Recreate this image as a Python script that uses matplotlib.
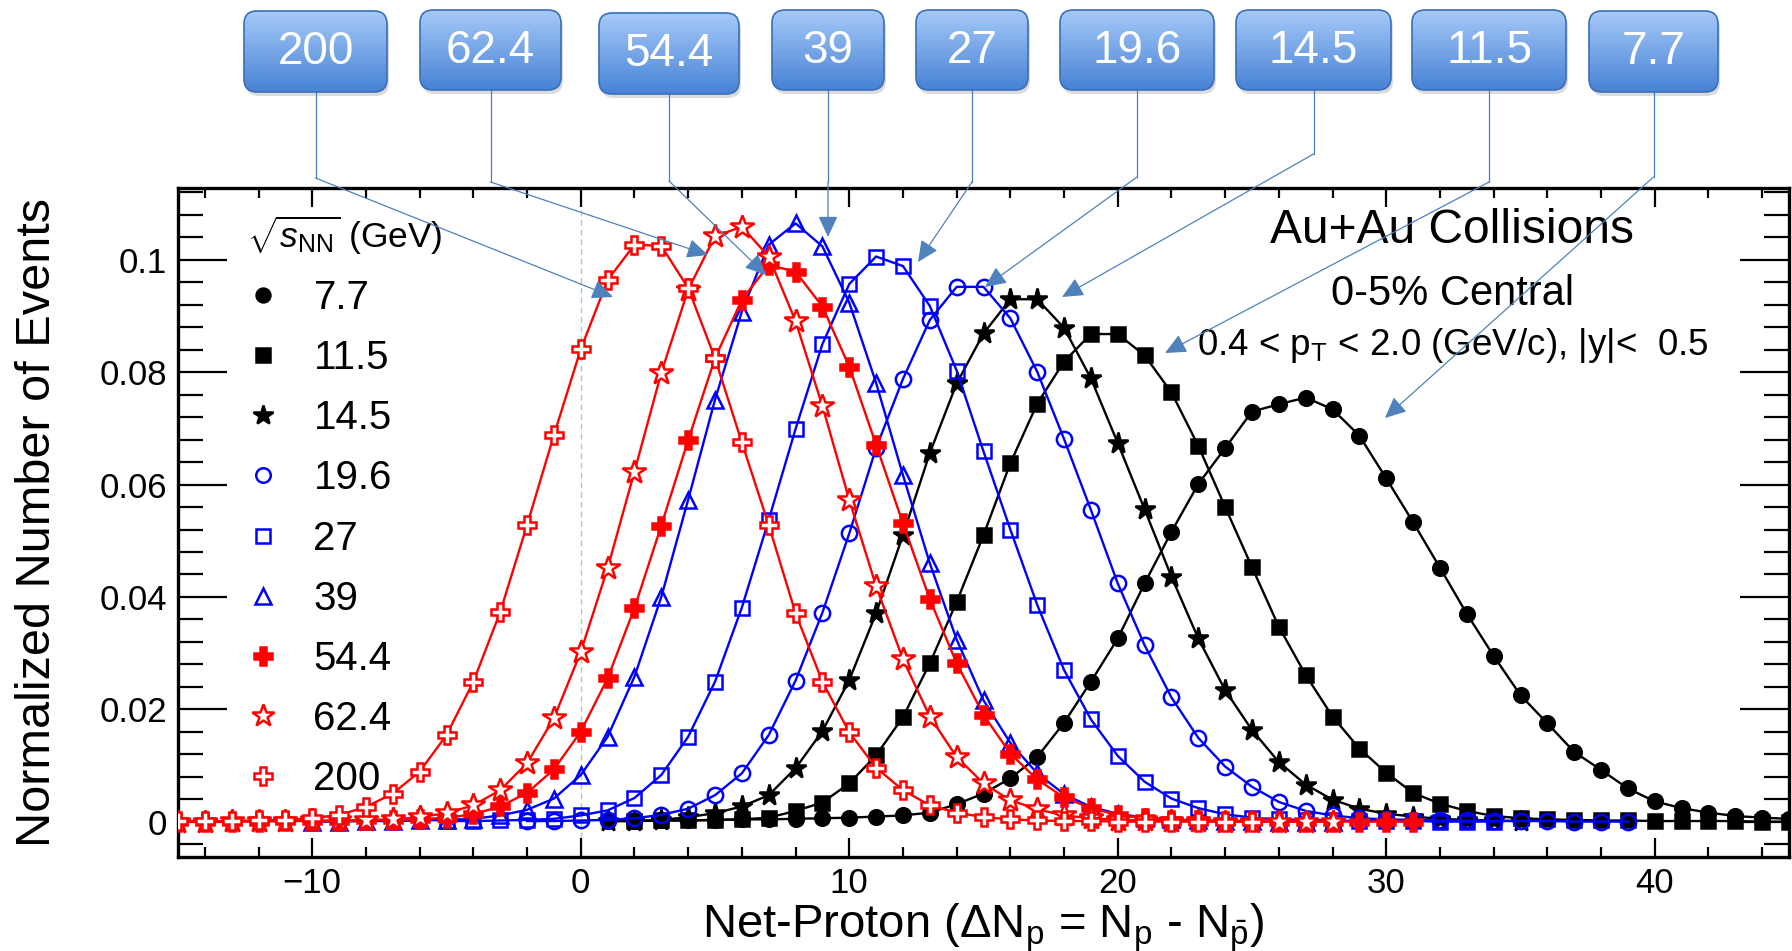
import numpy as np
import matplotlib
matplotlib.use('Agg')
import matplotlib.pyplot as plt
from matplotlib.lines import Line2D
from matplotlib.patches import FancyBboxPatch, FancyArrowPatch
from matplotlib.colors import LinearSegmentedColormap
from matplotlib.ticker import MultipleLocator, FuncFormatter

plt.rcParams['font.family'] = ['Liberation Sans', 'DejaVu Sans']
plt.rcParams['mathtext.fontset'] = 'custom'
plt.rcParams['mathtext.rm'] = 'Liberation Sans'
plt.rcParams['mathtext.it'] = 'Liberation Sans:italic'
plt.rcParams['mathtext.bf'] = 'Liberation Sans:bold'

# ---- data: normalized net-proton distributions, 0-5% central Au+Au ----
energies = ['7.7', '11.5', '14.5', '19.6', '27', '39', '54.4', '62.4', '200']

x_7p7 = list(range(1, 46))
y_7p7 = [0.0001, 0.0001, 0.0002, 0.0002, 0.0003, 0.0004, 0.0004, 0.0005, 0.0006, 0.0007,
         0.0009, 0.0011, 0.0016, 0.0031, 0.0050, 0.0077, 0.0115, 0.0176, 0.0249, 0.0326,
         0.0424, 0.0516, 0.0601, 0.0665, 0.0730, 0.0743, 0.0755, 0.0734, 0.0687, 0.0611,
         0.0533, 0.0452, 0.0370, 0.0295, 0.0225, 0.0175, 0.0124, 0.0092, 0.0059, 0.0036,
         0.0024, 0.0016, 0.0010, 0.0007, 0.0005]

x_11p5 = list(range(2, 46))
y_11p5 = [0.0001, 0.0002, 0.0002, 0.0003, 0.0004, 0.0007, 0.0019, 0.0034, 0.0068, 0.0118,
          0.0186, 0.0282, 0.0391, 0.0510, 0.0638, 0.0744, 0.0819, 0.0868, 0.0868, 0.0830,
          0.0764, 0.0669, 0.0560, 0.0453, 0.0347, 0.0261, 0.0187, 0.0130, 0.0087, 0.0051,
          0.0032, 0.0019, 0.0010, 0.0006, 0.0004, 0.0003, 0.0002, 0.0002, 0.0001, 0.0001,
          0.0001, 0.0001, 0.0000, 0.0000]

x_14p5 = list(range(1, 36))
y_14p5 = [0.0001, 0.0001, 0.0003, 0.0008, 0.0015, 0.0027, 0.0047, 0.0095, 0.0161, 0.0252,
          0.0371, 0.0510, 0.0656, 0.0780, 0.0869, 0.0930, 0.0930, 0.0879, 0.0789, 0.0674,
          0.0556, 0.0436, 0.0326, 0.0234, 0.0163, 0.0106, 0.0066, 0.0039, 0.0023, 0.0014,
          0.0009, 0.0005, 0.0003, 0.0002, 0.0001]

x_19p6 = list(range(-2, 40))
y_19p6 = [0.0001, 0.0001, 0.0002, 0.0003, 0.0006, 0.0012, 0.0023, 0.0047, 0.0086, 0.0154,
          0.0251, 0.0372, 0.0513, 0.0665, 0.0788, 0.0893, 0.0952, 0.0952, 0.0896, 0.0801,
          0.0681, 0.0555, 0.0424, 0.0314, 0.0221, 0.0149, 0.0098, 0.0062, 0.0035, 0.0019,
          0.0011, 0.0006, 0.0004, 0.0003, 0.0002, 0.0002, 0.0001, 0.0001, 0.0001, 0.0000,
          0.0000, 0.0000]

x_27 = list(range(-5, 35))
y_27 = [0.0001, 0.0001, 0.0002, 0.0003, 0.0005, 0.0011, 0.0020, 0.0042, 0.0083, 0.0151,
        0.0249, 0.0381, 0.0537, 0.0699, 0.0850, 0.0957, 0.1006, 0.0989, 0.0918, 0.0803,
        0.0659, 0.0520, 0.0386, 0.0270, 0.0182, 0.0117, 0.0071, 0.0041, 0.0024, 0.0013,
        0.0007, 0.0004, 0.0003, 0.0002, 0.0001, 0.0001, 0.0001, 0.0000, 0.0000, 0.0000]

x_39 = list(range(-10, 29))
y_39 = [0.0000, 0.0000, 0.0001, 0.0001, 0.0002, 0.0003, 0.0005, 0.0011, 0.0021, 0.0041,
        0.0083, 0.0151, 0.0258, 0.0400, 0.0573, 0.0751, 0.0908, 0.1027, 0.1065, 0.1024,
        0.0924, 0.0781, 0.0617, 0.0460, 0.0324, 0.0216, 0.0140, 0.0086, 0.0049, 0.0026,
        0.0014, 0.0007, 0.0004, 0.0002, 0.0001, 0.0001, 0.0000, 0.0000, 0.0000]

x_54p4 = list(range(-15, 32))
y_54p4 = [0.0000, 0.0000, 0.0000, 0.0000, 0.0001, 0.0001, 0.0001, 0.0002, 0.0003, 0.0004,
          0.0007, 0.0013, 0.0027, 0.0051, 0.0093, 0.0160, 0.0255, 0.0380, 0.0527, 0.0679,
          0.0825, 0.0929, 0.0991, 0.0979, 0.0917, 0.0810, 0.0671, 0.0531, 0.0396, 0.0282,
          0.0190, 0.0121, 0.0075, 0.0043, 0.0024, 0.0012, 0.0006, 0.0003, 0.0002, 0.0001,
          0.0001, 0.0000, 0.0000, 0.0000, 0.0000, 0.0000, 0.0000]

x_62p4 = list(range(-15, 29))
y_62p4 = [0.0000, 0.0000, 0.0001, 0.0001, 0.0001, 0.0002, 0.0002, 0.0003, 0.0004, 0.0008,
          0.0015, 0.0029, 0.0056, 0.0104, 0.0184, 0.0302, 0.0451, 0.0623, 0.0799, 0.0947,
          0.1042, 0.1059, 0.1006, 0.0891, 0.0740, 0.0573, 0.0419, 0.0289, 0.0187, 0.0115,
          0.0068, 0.0038, 0.0022, 0.0011, 0.0006, 0.0003, 0.0002, 0.0001, 0.0001, 0.0000,
          0.0000, 0.0000, 0.0000, 0.0000]

x_200 = list(range(-15, 26))
y_200 = [0.0001, 0.0001, 0.0001, 0.0002, 0.0003, 0.0006, 0.0012, 0.0026, 0.0050, 0.0089,
         0.0154, 0.0249, 0.0373, 0.0528, 0.0688, 0.0841, 0.0964, 0.1027, 0.1025, 0.0950,
         0.0825, 0.0675, 0.0528, 0.0371, 0.0249, 0.0159, 0.0096, 0.0056, 0.0029, 0.0016,
         0.0008, 0.0004, 0.0002, 0.0001, 0.0001, 0.0000, 0.0000, 0.0000, 0.0000, 0.0000,
         0.0000]

xs = [x_7p7, x_11p5, x_14p5, x_19p6, x_27, x_39, x_54p4, x_62p4, x_200]
ys = [y_7p7, y_11p5, y_14p5, y_19p6, y_27, y_39, y_54p4, y_62p4, y_200]

# marker styles (ROOT-like)
styles = [
    dict(color='black', marker='o', mfc='black', ms=10.5),
    dict(color='black', marker='s', mfc='black', ms=10),
    dict(color='black', marker='*', mfc='black', ms=15.5),
    dict(color='#0000ff', marker='o', mfc='none', ms=11),
    dict(color='#0000ff', marker='s', mfc='none', ms=10.5),
    dict(color='#0000ff', marker='^', mfc='none', ms=12),
    dict(color='#ff0000', marker='P', mfc='#ff0000', ms=13),
    dict(color='#ff0000', marker='*', mfc='white', ms=17.5),
    dict(color='#ff0000', marker='P', mfc='white', ms=13),
]

fig = plt.figure(figsize=(17.92, 9.51), dpi=100)
W, H = 1792.0, 951.0
ax = fig.add_axes([178 / W, 1 - 857 / H, (1789 - 178) / W, (857 - 188) / H])

ax.axvline(0, color='#9fd89f', ls=(0, (4, 3)), lw=1.0, zorder=1)

for i in range(len(energies)):
    st = styles[i]
    ax.plot(xs[i], ys[i], color=st['color'], lw=1.7, marker=st['marker'],
            ms=st['ms'], mfc=st['mfc'], mec=st['color'], mew=1.8, zorder=3 + i)

ax.set_xlim(-15, 45)
ax.set_ylim(-0.0063, 0.1128)

ax.xaxis.set_major_locator(MultipleLocator(10))
ax.xaxis.set_minor_locator(MultipleLocator(2))
ax.yaxis.set_major_locator(MultipleLocator(0.02))
ax.yaxis.set_minor_locator(MultipleLocator(0.004))
ax.yaxis.set_major_formatter(FuncFormatter(lambda v, p: '0' if abs(v) < 1e-9 else '%g' % round(v, 3)))

ax.tick_params(axis='both', which='both', direction='in', top=True, right=True,
               labelsize=25, width=1.6)
ax.tick_params(axis='y', which='major', length=35, pad=8)
ax.tick_params(axis='y', which='minor', length=18)
ax.tick_params(axis='x', which='major', length=14, pad=7)
ax.tick_params(axis='x', which='minor', length=7)
for sp in ax.spines.values():
    sp.set_linewidth(2.4)

fig.text(38 / W, 0.5 * (2 - (188 + 857) / H), 'Normalized Number of Events', rotation=90,
         ha='center', va='center', fontsize=35)
fig.text(983.5 / W, 1 - 937 / H,
         r'Net-Proton ($\Delta$N$_{\mathrm{p}}$ = N$_{\mathrm{p}}$ - N$_{\bar{\mathrm{p}}}$)',
         ha='center', va='baseline', fontsize=34)

ax.text(0.791, 0.9178, 'Au+Au Collisions', transform=ax.transAxes, ha='center',
        va='baseline', fontsize=34.5)
ax.text(0.791, 0.8251, '0-5% Central', transform=ax.transAxes, ha='center',
        va='baseline', fontsize=30)
ax.text(0.791, 0.7504, r'0.4 < p$_{\mathrm{T}}$ < 2.0 (GeV/c), |y|<  0.5',
        transform=ax.transAxes, ha='center', va='baseline', fontsize=26.5)

handles = [Line2D([], [], ls='none', marker=st['marker'], ms=st['ms'] * 0.95,
                  mfc=st['mfc'], mec=st['color'], mew=1.8) for st in styles]
leg = ax.legend(handles, energies, loc='upper left', bbox_to_anchor=(0.0428, 0.962),
                frameon=False, fontsize=29, title=r'$\sqrt{s_{\mathrm{NN}}}$ (GeV)',
                title_fontsize=25.5, alignment='left', labelspacing=0.55,
                handlelength=0.8, handletextpad=0.85, borderpad=0, borderaxespad=0)

# ---- energy call-out boxes with arrows (overlay in pixel coords) ----
ov = fig.add_axes([0, 0, 1, 1], zorder=10)
ov.set_xlim(0, W)
ov.set_ylim(H, 0)
ov.axis('off')
ov.patch.set_alpha(0)

box_labels = ['200', '62.4', '54.4', '39', '27', '19.6', '14.5', '11.5', '7.7']
box_x0 = [244, 420, 599, 772, 916, 1060, 1236, 1412, 1589]
box_x1 = [387, 561, 739, 884, 1028, 1214, 1391, 1566, 1718]
box_y0 = [11, 10, 13, 10, 10, 10, 10, 10, 11]
box_y1 = [92, 90, 94, 90, 90, 90, 90, 90, 92]
elbow_y = [178, 182, 181, 182, 182, 177, 154, 182, 177]
tip_x = [613, 708, 766, 828, 918, 985, 1062, 1165, 1385]
tip_y = [297, 255, 275, 237, 262, 287, 297, 353, 418]

grad = np.linspace(0, 1, 64).reshape(-1, 1)
box_cmap = LinearSegmentedColormap.from_list('box', ['#a6c9f8', '#4783d5'])

for i, lab in enumerate(box_labels):
    x0, x1, y0, y1 = box_x0[i], box_x1[i], box_y0[i], box_y1[i]
    shadow = FancyBboxPatch((x0 + 2, y0 + 4), x1 - x0, y1 - y0,
                            boxstyle='round,pad=0,rounding_size=13',
                            fc='#888888', ec='none', alpha=0.3, zorder=1)
    ov.add_patch(shadow)
    frame = FancyBboxPatch((x0, y0), x1 - x0, y1 - y0,
                           boxstyle='round,pad=0,rounding_size=13',
                           fc='none', ec='#3a6fb8', lw=1.2, zorder=3)
    ov.add_patch(frame)
    im = ov.imshow(grad, extent=(x0, x1, y1, y0), cmap=box_cmap, aspect='auto',
                   zorder=2, interpolation='bilinear')
    im.set_clip_path(frame)
    ov.text((x0 + x1) / 2, (y0 + y1) / 2 + 1, lab, color='white', fontsize=33,
            ha='center', va='center', zorder=4)

    cx = (x0 + x1) / 2
    ov.plot([cx, cx], [y1, elbow_y[i]], color='#4a7ebb', lw=0.9, zorder=2)
    arr = FancyArrowPatch((cx, elbow_y[i]), (tip_x[i], tip_y[i]),
                          arrowstyle='-|>,head_length=1.3,head_width=0.6',
                          mutation_scale=10, color='#4f81bd', lw=0.9,
                          shrinkA=0, shrinkB=0, zorder=2)
    ov.add_patch(arr)

ov.set_xlim(0, W)
ov.set_ylim(H, 0)

fig.savefig('out.png', dpi=100)
